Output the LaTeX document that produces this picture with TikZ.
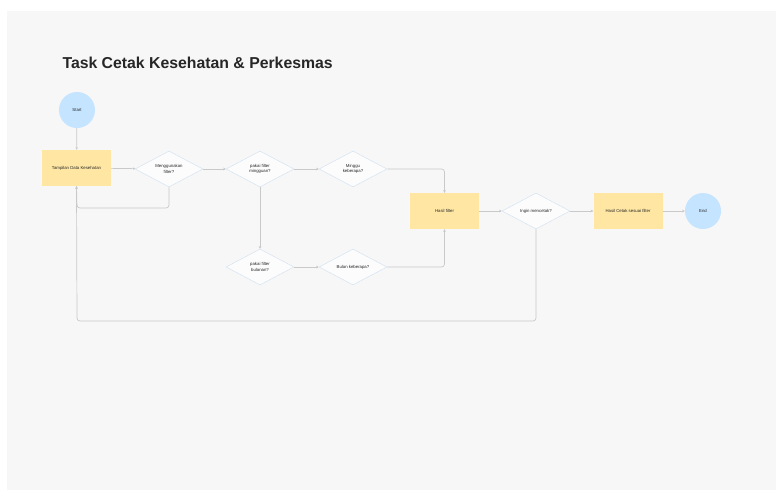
\documentclass[tikz,border=0pt]{standalone}
\usepackage{fontspec}
\setmainfont{Liberation Sans}
\usepackage{tikz}
\usetikzlibrary{arrows.meta,shapes.geometric}

\begin{document}
\begin{tikzpicture}[x=1pt,y=-1pt]
				\definecolor{cbg}{rgb}{0.969,0.969,0.969}
				\definecolor{cbox}{rgb}{1.0,0.906,0.639}
				\definecolor{cterm}{rgb}{0.769,0.894,1.0}
				\definecolor{cdec}{rgb}{0.835,0.890,0.945}
				\definecolor{cline}{rgb}{0.790,0.790,0.790}
				\definecolor{ctext}{rgb}{0.15,0.15,0.15}
				\tikzset{
					lbl/.style={font=\fontsize{4.3}{5.2}\selectfont,text=ctext,align=center},
					procbox/.style={lbl,rectangle,fill=cbox,draw=none,minimum width=69pt,minimum height=36pt,inner sep=0pt},
					termnode/.style={lbl,circle,fill=cterm,draw=none,minimum size=36pt,inner sep=0pt},
					decnode/.style={lbl,diamond,aspect=1.9,fill=cbg!40!white,draw=cdec,line width=0.5pt,minimum width=68pt,minimum height=36pt,inner sep=0pt},
					flow/.style={draw=cline,line width=0.7pt,-{Stealth[length=2.6pt,width=2.6pt]},rounded corners=3pt}
				}
				%
				\useasboundingbox (0,0) rectangle (776,490);
				\fill[white] (0,0) rectangle (776,490);
				\fill[cbg] (7,11) rectangle (776,490);
				\node[anchor=base west,font=\fontsize{15.8}{18}\selectfont\bfseries,text=black!85] (title) at (59,68) {Task Cetak Kesehatan \& Perkesmas};
				%
				\node[termnode] (start) at (77,110) {Start};
				\node[procbox] (tampil) at (76.5,168) {Tampilan Data Kesehatan};
				\node[decnode] (pakaifilter) at (169,169) {Menggunakan\\filter?};
				\node[decnode] (mingguan) at (260,169) {pakai filter\\mingguan?};
				\node[decnode] (minggu) at (353,169) {Minggu\\keberapa?};
				\node[decnode] (bulanan) at (260,267) {pakai filter\\bulanan?};
				\node[decnode] (bulan) at (353,267) {Bulan keberapa?};
				\node[procbox] (hasil) at (444.5,211) {Hasil filter};
				\node[decnode] (cetak) at (536,211) {Ingin mencetak?};
				\node[procbox] (hasilcetak) at (628,211) {Hasil Cetak sesuai filter};
				\node[termnode] (end) at (703,211) {End};
				%
				\draw[flow] (start) -- (tampil);
				\draw[flow] (tampil) -- (pakaifilter);
				\draw[flow] (pakaifilter.south) |- (77,208) -- (tampil.south);
				\draw[flow] (pakaifilter) -- (mingguan);
				\draw[flow] (mingguan) -- (minggu);
				\draw[flow] (mingguan) -- (bulanan);
				\draw[flow] (minggu.east) -| (hasil.north);
				\draw[flow] (bulanan) -- (bulan);
				\draw[flow] (bulan.east) -| (hasil.south);
				\draw[flow] (hasil) -- (cetak);
				\draw[flow] (cetak) -- (hasilcetak);
				\draw[flow] (hasilcetak) -- (end);
				\draw[flow] (cetak.south) |- (77,321) -- (tampil.south);
				%
			\end{tikzpicture}
\end{document}
